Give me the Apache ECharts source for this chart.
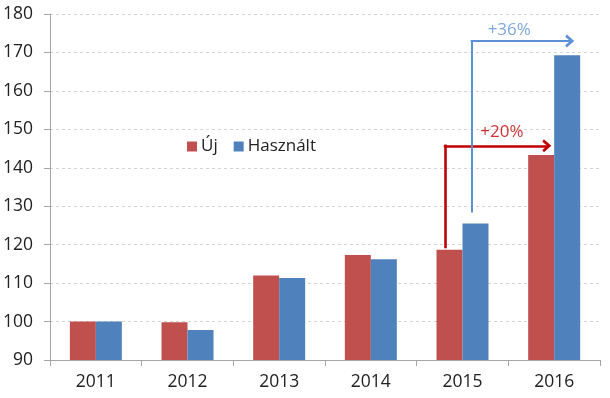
<!DOCTYPE html>
<html>
<head>
<meta charset="utf-8">
<script src="https://cdn.jsdelivr.net/npm/echarts@6/dist/echarts.min.js"></script>
<style>
html,body{margin:0;padding:0;background:#fff;}
#c{width:610px;height:398px;}
</style>
</head>
<body>
<div id="c"></div>
<script>
// Data
const categories = ['2011', '2012', '2013', '2014', '2015', '2016'];
const seriesNames = ['Új', 'Használt'];
const ujValues = [100, 99.8, 112.0, 117.3, 118.7, 143.3];
const hasznaltValues = [100, 97.8, 111.3, 116.2, 125.5, 169.3];
const yTicks = [90, 100, 110, 120, 130, 140, 150, 160, 170, 180];

// Annotation arrows (x in category units on a 0..6 scale, y in value units)
const redArrowPath = [[4.31, 119.4], [4.31, 145.7], [5.42, 145.7]];
const blueArrowPath = [[4.60, 128.6], [4.60, 173.0], [5.67, 173.0]];
const annotationLabels = ['+20%', '+36%'];
const annotationLabelPos = [[4.93, 149.3], [5.01, 175.9]];

const FONT = 'Open Sans';
const RED = '#C0504D', BLUE = '#4F81BD';
const ARROW_RED = '#C00000', ARROW_BLUE = '#5B91D4';
const chevron = 'path://M0,10 L10,0 L20,10 L16.5,12 L10,5.5 L3.5,12 Z';

function arrowSegments(p) {
  return [
    [{coord: p[0], symbol: 'none'}, {coord: p[1], symbol: 'none'}],
    [{coord: p[1], symbol: 'none'}, {coord: p[2], symbol: chevron, symbolSize: [13, 9]}]
  ];
}

const chart = echarts.init(document.getElementById('c'), null, {renderer: 'canvas'});
chart.setOption({
  animation: false,
  backgroundColor: '#ffffff',
  textStyle: {fontFamily: FONT},
  grid: {left: 50, right: 10, top: 14, bottom: 38, containLabel: false},
  legend: {
    data: seriesNames,
    left: 187, top: 138, padding: 0,
    itemWidth: 10, itemHeight: 10, itemGap: 16,
    icon: 'rect',
    textStyle: {fontFamily: FONT, fontSize: 17, color: '#222', padding: [0, 0, 0, -1]}
  },
  xAxis: [{
    type: 'category',
    data: categories,
    axisLine: {show: true, lineStyle: {color: '#A6A6A6', width: 1}},
    axisTick: {show: true, length: 6, lineStyle: {color: '#A6A6A6'}},
    axisLabel: {fontFamily: FONT, fontSize: 17.5, color: '#222', margin: 13},
    splitLine: {show: false}
  }, {
    type: 'value', min: 0, max: 6, show: false
  }],
  yAxis: {
    type: 'value', min: yTicks[0], max: yTicks[yTicks.length - 1], interval: 10,
    axisLine: {show: true, lineStyle: {color: '#A6A6A6', width: 1}},
    axisTick: {show: true, length: 6, lineStyle: {color: '#A6A6A6'}},
    axisLabel: {fontFamily: FONT, fontSize: 17.5, color: '#222', margin: 17},
    splitLine: {show: true, lineStyle: {color: '#D4D4D4', type: [3, 3], width: 1}}
  },
  series: [
    {
      name: seriesNames[0], type: 'bar', data: ujValues,
      barWidth: 26, barGap: '0%',
      itemStyle: {color: RED}
    },
    {
      name: seriesNames[1], type: 'bar', data: hasznaltValues,
      barWidth: 26, barGap: '0%',
      itemStyle: {color: BLUE}
    },
    {
      name: 'arrowRed', type: 'line', xAxisIndex: 1, data: [],
      silent: true,
      markLine: {
        silent: true, animation: false,
        symbol: ['none', 'none'],
        lineStyle: {color: ARROW_RED, width: 2.6, type: 'solid', cap: 'square'},
        label: {show: false},
        emphasis: {disabled: true},
        data: arrowSegments(redArrowPath)
      }
    },
    {
      name: 'arrowBlue', type: 'line', xAxisIndex: 1, data: [],
      silent: true,
      markLine: {
        silent: true, animation: false,
        symbol: ['none', 'none'],
        lineStyle: {color: ARROW_BLUE, width: 2, type: 'solid', cap: 'square'},
        label: {show: false},
        emphasis: {disabled: true},
        data: arrowSegments(blueArrowPath)
      }
    },
    {
      name: 'labels', type: 'scatter', xAxisIndex: 1, silent: true,
      symbolSize: 0,
      data: annotationLabelPos.map((p, i) => ({
        value: p,
        label: {
          show: true, position: 'inside', formatter: annotationLabels[i],
          fontFamily: FONT, fontSize: 17,
          color: i === 0 ? ARROW_RED : ARROW_BLUE
        }
      }))
    }
  ]
});
</script>
</body>
</html>
